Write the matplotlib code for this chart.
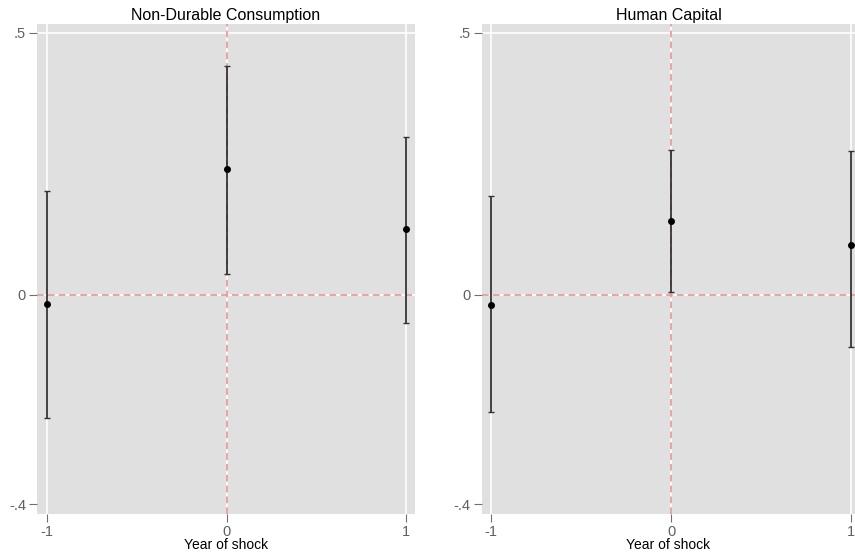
import numpy as np
import matplotlib
matplotlib.use('Agg')
from matplotlib import pyplot as plt

plt.rcParams['font.family'] = ['Liberation Sans', 'DejaVu Sans']

years = [-1, 0, 1]
titles = ['Non-Durable Consumption', 'Human Capital']

# point estimates and 95% bounds
nd_coef = [-0.017, 0.240, 0.125]
nd_lo = [-0.235, 0.040, -0.054]
nd_hi = [0.198, 0.437, 0.302]

hc_coef = [-0.019, 0.141, 0.095]
hc_lo = [-0.224, 0.005, -0.100]
hc_hi = [0.188, 0.276, 0.274]

yticks = [0.5, 0, -0.4]
yticklabels = ['.5', '0', '-.4']
xticklabels = ['-1', '0', '1']

fig = plt.figure(figsize=(8.55, 5.56), dpi=100)
ax1 = fig.add_axes([0.0433, 0.0755, 0.4421, 0.8813])
ax2 = fig.add_axes([0.5637, 0.0755, 0.4363, 0.8813])

panels = [(ax1, nd_coef, nd_lo, nd_hi, (-1.056, 1.05)),
          (ax2, hc_coef, hc_lo, hc_hi, (-1.05, 1.022))]

for i, (ax, coef, lo, hi, xl) in enumerate(panels):
    ax.set_facecolor('#e0e0e0')
    for s in ax.spines.values():
        s.set_visible(False)
    # stata style white grid
    for yv in [0.5, 0]:
        ax.axhline(yv, color='white', lw=1.2, zorder=1)
    for xv in years:
        ax.axvline(xv, color='white', lw=1.2, zorder=1)
    ax.axhline(0, color='#e69494', lw=1.2, ls=(0, (4, 2.5)), zorder=2)
    ax.axvline(0, color='#e69494', lw=1.2, ls=(0, (4, 2.5)), zorder=2)
    c = np.array(coef)
    err = [c - np.array(lo), np.array(hi) - c]
    ax.errorbar(years, coef, yerr=err, fmt='o', color='black', ecolor='#333333',
                elinewidth=1.3, capsize=2.2, capthick=1.0, markersize=4, zorder=3)
    ax.set_xlim(*xl)
    ax.set_ylim(-0.419, 0.517)
    ax.set_xticks(years)
    ax.set_xticklabels(xticklabels)
    ax.set_yticks(yticks)
    ax.set_yticklabels(yticklabels)
    ax.tick_params(axis='both', colors='#707070', labelcolor='#606060',
                   length=6, width=0.8, labelsize=10.5, direction='out', pad=2)
    ax.set_xlabel('Year of shock', fontsize=10, color='black', labelpad=-1)
    ax.set_title(titles[i], fontsize=11.5, color='black', pad=3)

fig.savefig('out.png', dpi=100)
